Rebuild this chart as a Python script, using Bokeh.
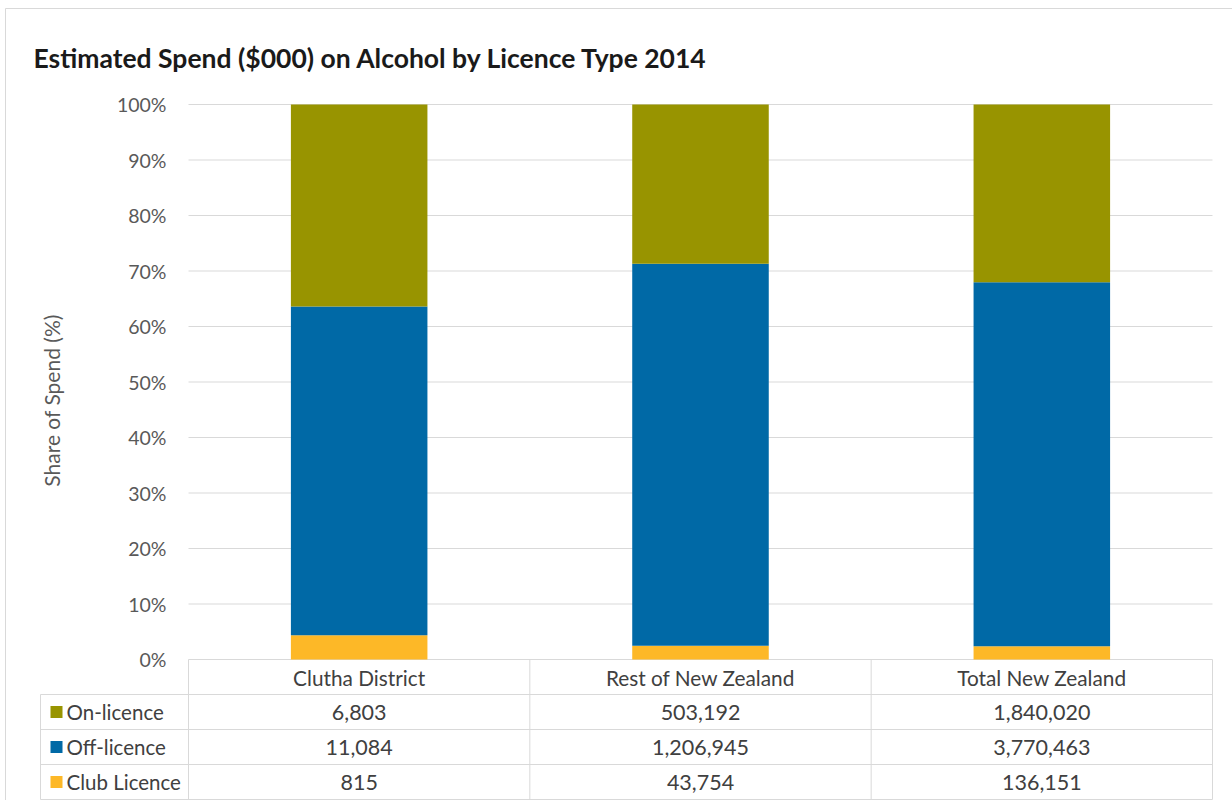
from bokeh.plotting import figure
from bokeh.models import ColumnDataSource, Range1d, LinearAxis, FixedTicker, PrintfTickFormatter, Label
from bokeh.core.properties import value
from bokeh.embed import file_html
from bokeh.resources import INLINE

# ---------------- data ----------------
categories = ["Clutha District", "Rest of New Zealand", "Total New Zealand"]
on_licence = [6803, 503192, 1840020]
off_licence = [11084, 1206945, 3770463]
club_licence = [815, 43754, 136151]
series_names = ["On-licence", "Off-licence", "Club Licence"]  # table order (top to bottom)
y_ticks = [0, 10, 20, 30, 40, 50, 60, 70, 80, 90, 100]
title_text = "Estimated Spend ($000) on Alcohol by Licence Type 2014"
y_label = "Share of Spend (%)"

# ---------------- style ----------------
C_ON = "#989400"
C_OFF = "#0069A6"
C_CLUB = "#FDB827"
GRID = "#D9D9D9"
TXT = "#404040"
TICK = "#595959"
FONT = "Lato"

W, H = 1232, 800
X0, UX = 188.0, 341.33   # pixel of x=0, pixels per category
Y0, UY = 659.0, 5.55     # pixel of y=0, pixels per percent


def xd(px):
    return (px - X0) / UX


def yd(py):
    return (Y0 - py) / UY


n = len(categories)
totals = [a + b + c for a, b, c in zip(on_licence, off_licence, club_licence)]
pct_on = [v / t * 100 for v, t in zip(on_licence, totals)]
pct_off = [v / t * 100 for v, t in zip(off_licence, totals)]
pct_club = [v / t * 100 for v, t in zip(club_licence, totals)]
xs = [i + 0.5 for i in range(n)]

p = figure(width=W, height=H,
           x_range=Range1d(xd(0), xd(W)), y_range=Range1d(yd(H), yd(0)),
           output_backend="svg", toolbar_location=None,
           x_axis_location=None, y_axis_location=None,
           min_border=0, outline_line_color=None,
           background_fill_color="white", border_fill_color="white")
p.xgrid.visible = False
p.ygrid.visible = False

# outer border (left & top)
p.segment(x0=[xd(5), xd(5)], y0=[yd(8), yd(8)], x1=[xd(W), xd(5)], y1=[yd(8), yd(H)],
          line_color=GRID, line_width=1)

# gridlines
p.segment(x0=[0] * len(y_ticks), x1=[n] * len(y_ticks), y0=y_ticks, y1=y_ticks,
          line_color=GRID, line_width=1)

# stacked bars
src = ColumnDataSource(dict(x=xs, club=pct_club, off=pct_off, on=pct_on))
p.vbar_stack(["club", "off", "on"], x="x", width=0.4, source=src,
             fill_color=[C_CLUB, C_OFF, C_ON], line_color=None)

# y axis placed at x=0 inside the frame
yaxis = LinearAxis(fixed_location=0, ticker=FixedTicker(ticks=y_ticks),
                   formatter=PrintfTickFormatter(format="%d%%"),
                   axis_label=y_label)
yaxis.axis_line_color = None
yaxis.major_tick_line_color = None
yaxis.minor_tick_line_color = None
yaxis.major_tick_out = 0
yaxis.minor_tick_out = 0
yaxis.major_label_standoff = 22
yaxis.major_label_text_font = FONT
yaxis.major_label_text_font_size = "19.5px"
yaxis.major_label_text_color = TICK
yaxis.axis_label_text_font = FONT
yaxis.axis_label_text_font_size = "21px"
yaxis.axis_label_text_font_style = "normal"
yaxis.axis_label_text_color = TICK
yaxis.axis_label_standoff = 50
p.add_layout(yaxis, "left")

# ---------------- data table ----------------
row_h = 35.0
table_top = Y0
rows_px = [table_top + row_h * k for k in range(5)]  # 659, 694, 729, 764, 799
left_px = 40.0

# horizontal lines
hy = [yd(v) for v in rows_px[1:]]
p.segment(x0=[xd(left_px)] * len(hy), x1=[n] * len(hy), y0=hy, y1=hy,
          line_color=GRID, line_width=1)
# vertical lines
vx = list(range(n + 1))
p.segment(x0=vx, x1=vx, y0=[0] * len(vx), y1=[yd(rows_px[-1])] * len(vx),
          line_color=GRID, line_width=1)
p.segment(x0=[xd(left_px)], x1=[xd(left_px)], y0=[yd(rows_px[1])], y1=[yd(rows_px[-1])],
          line_color=GRID, line_width=1)

# header
p.text(x=xs, y=[yd(table_top + row_h / 2)] * n, text=categories,
       text_font=value(FONT), text_font_size="20.8px", text_color=TXT,
       text_align="center", text_baseline="middle")

row_values = [on_licence, off_licence, club_licence]
row_colors = [C_ON, C_OFF, C_CLUB]
for k, (vals, col, name) in enumerate(zip(row_values, row_colors, series_names)):
    yc = yd(rows_px[k + 1] + row_h / 2)
    p.text(x=xs, y=[yc] * n, text=[f"{v:,}" for v in vals],
           text_font=value(FONT), text_font_size="21.5px", text_color=TXT,
           text_align="center", text_baseline="middle")
    p.scatter(x=[xd(56)], y=[yc], marker="square", size=12,
              fill_color=col, line_color=None)
    p.text(x=[xd(66)], y=[yc], text=[name],
           text_font=value(FONT), text_font_size="20.5px", text_color=TXT,
           text_align="left", text_baseline="middle")

# title
p.add_layout(Label(x=xd(33), y=yd(57), text=title_text,
                   text_font=FONT, text_font_size="26.5px", text_font_style="bold",
                   text_color="#1A1A1A", text_align="left", text_baseline="middle"))

open("out.html", "w").write(file_html(p, INLINE))
